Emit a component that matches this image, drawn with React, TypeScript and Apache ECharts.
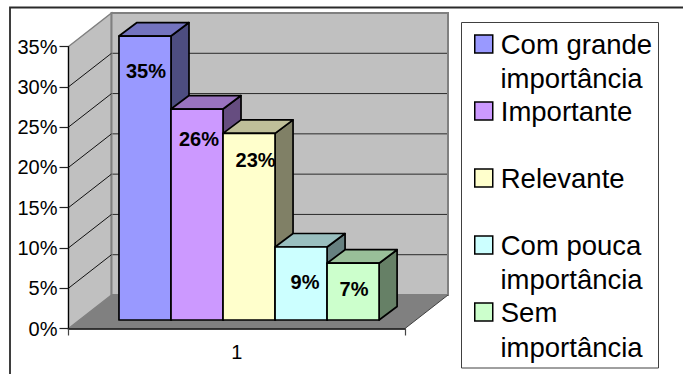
import React, { useEffect, useRef } from "react";
import * as echarts from "echarts";

// Survey answers, in percent, one column per answer.
const categories = ["1"];
const answerNames = [
  "Com grande\nimportância",
  "Importante",
  "Relevante",
  "Com pouca\nimportância",
  "Sem\nimportância",
];
const answerValues = [35, 26, 23, 9, 7];
const wallTicks = [5, 10, 15, 20, 25, 30];

// Front, top and side shades of each column.
const frontColors = ["#9999FF", "#CC99FF", "#FFFFCC", "#CCFFFF", "#CCFFCC"];
const topColors = ["#7373BF", "#9973BF", "#BFBF99", "#99BFBF", "#99BF99"];
const sideColors = ["#4D4D80", "#664D80", "#808066", "#668080", "#668066"];

// Label placement relative to the column's top centre.
const labelNudgeX = [1, 2, 6.5, 4, 1];
const labelNudgeY = [35, 30, 27, 35, 25.5];

const FONT = '"Liberation Sans", Arial, sans-serif';
const LEGEND_FONT_SIZE = 27.5;
const AXIS_FONT_SIZE = 20;
const DEPTH_X = 43;
const DEPTH_Y = 33.5;
const COLUMN_DX = 18;
const COLUMN_DY = 13.5;
const COLUMN_SCALE = 1.007;
const FLOOR_INSET = 8.5;

const poly = (points: number[][], style: any) => ({
  type: "polygon",
  shape: { points },
  style,
});
const seg = (x1: number, y1: number, x2: number, y2: number, stroke: string, lineWidth: number) => ({
  type: "line",
  shape: { x1, y1, x2, y2 },
  style: { stroke, lineWidth, fill: "none" },
});

// Side wall, back wall and floor of the box, with gridlines at each tick.
const renderWalls = (_params: any, api: any) => {
  const [cx, y0] = api.coord([0, 0]);
  const band = api.size([1, 0])[0];
  const left = cx - band / 2;
  const right = cx + band / 2;
  const yTop = api.coord([0, 35])[1];
  const backLeft = left + DEPTH_X;
  const backRight = right + DEPTH_X;
  const children: any[] = [
    poly(
      [[left, y0], [backLeft, y0 - DEPTH_Y], [backLeft, yTop - DEPTH_Y], [left, yTop]],
      { fill: "#C0C0C0", stroke: "#808080", lineWidth: 1.5 },
    ),
    poly(
      [[backLeft, y0 - DEPTH_Y], [backRight, y0 - DEPTH_Y], [backRight, yTop - DEPTH_Y], [backLeft, yTop - DEPTH_Y]],
      { fill: "#C0C0C0", stroke: "#808080", lineWidth: 2 },
    ),
  ];
  wallTicks.forEach((t) => {
    const y = api.coord([0, t])[1];
    children.push(seg(left, y, backLeft, y - DEPTH_Y, "#111111", 1));
    children.push(seg(backLeft + 1, y - DEPTH_Y, backRight - 1, y - DEPTH_Y, "#2A2A2A", 1));
  });
  children.push(
    poly(
      [[left, y0], [right, y0], [backRight, y0 - DEPTH_Y], [backLeft, y0 - DEPTH_Y]],
      { fill: "#808080" },
    ),
    seg(right, y0, backRight, y0 - DEPTH_Y, "#404040", 1),
  );
  return { type: "group", children };
};

// One extruded column with its value label.
const renderColumn = (index: number) => (_params: any, api: any) => {
  const value = api.value(1);
  const [cx, y0] = api.coord([0, 0]);
  const band = api.size([1, 0])[0];
  const width = band * 0.1546;
  const x = cx - band / 2 + band * (0.15 + index * 0.1546);
  const bottom = y0 - FLOOR_INSET;
  const top = bottom - (y0 - api.coord([0, value])[1]) * COLUMN_SCALE;
  const edge = { stroke: "#000000", lineWidth: 1.7, lineJoin: "round" };
  return {
    type: "group",
    children: [
      poly(
        [[x + width, bottom], [x + width + COLUMN_DX, bottom - COLUMN_DY], [x + width + COLUMN_DX, top - COLUMN_DY], [x + width, top]],
        { fill: sideColors[index], ...edge },
      ),
      poly(
        [[x, top], [x + COLUMN_DX, top - COLUMN_DY], [x + width + COLUMN_DX, top - COLUMN_DY], [x + width, top]],
        { fill: topColors[index], ...edge },
      ),
      poly(
        [[x, top], [x + width, top], [x + width, bottom], [x, bottom]],
        { fill: frontColors[index], ...edge },
      ),
      {
        type: "text",
        x: x + width / 2 + labelNudgeX[index],
        y: top + labelNudgeY[index],
        style: {
          text: `${value}%`,
          fill: "#000000",
          fontFamily: FONT,
          fontWeight: "bold",
          fontSize: 20,
          align: "center",
          verticalAlign: "middle",
        },
      },
    ],
  };
};

const legendText = (text: string, y: number) => ({
  type: "text",
  x: 500.5,
  y,
  z: 6,
  style: {
    text,
    fill: "#000000",
    fontFamily: FONT,
    fontSize: LEGEND_FONT_SIZE,
    verticalAlign: "middle",
  },
});

export default function App() {
  const ref = useRef<HTMLDivElement>(null);

  useEffect(() => {
    const chart = echarts.init(ref.current!, undefined, { renderer: "svg" });
    chart.setOption({
      animation: false,
      backgroundColor: "#FFFFFF",
      textStyle: { fontFamily: FONT },
      grid: { left: 68.5, top: 46.5, width: 336.5, height: 282, containLabel: false },
      xAxis: {
        type: "category",
        data: categories,
        z: 5,
        axisLine: { lineStyle: { color: "#000000", width: 1.5 } },
        axisTick: { show: true, length: 7, lineStyle: { color: "#444444", width: 1.2 } },
        axisLabel: { color: "#000000", fontSize: AXIS_FONT_SIZE, fontFamily: FONT, margin: 13 },
      },
      yAxis: {
        type: "value",
        min: 0,
        max: 35,
        interval: 5,
        z: 5,
        axisLine: { show: true, lineStyle: { color: "#000000", width: 1.2 } },
        axisTick: { show: true, length: 9, lineStyle: { color: "#222222", width: 1.2 } },
        axisLabel: { color: "#000000", fontSize: AXIS_FONT_SIZE, fontFamily: FONT, margin: 11, formatter: "{value}%" },
        splitLine: { show: false },
      },
      legend: {
        orient: "vertical",
        left: 474,
        top: 30,
        padding: 0,
        itemWidth: 18,
        itemHeight: 18,
        itemGap: 39,
        icon: "rect",
        selectedMode: false,
        data: answerNames,
        itemStyle: { borderColor: "#000000", borderWidth: 1.5 },
        textStyle: { color: "#000000", fontFamily: FONT, fontSize: LEGEND_FONT_SIZE, lineHeight: 28, padding: [0, 0, 0, 3] },
        formatter: (name: string) => name.split("\n")[0],
      },
      graphic: [
        { type: "polyline", shape: { points: [[10, 380], [10, 7.5], [690, 7.5]] }, style: { stroke: "#2A2A2A", lineWidth: 1.8, fill: "none" }, z: 0 },
        { type: "rect", shape: { x: 461.5, y: 22.5, width: 197, height: 345.5 }, style: { fill: "#FFFFFF", stroke: "#404040", lineWidth: 1 }, z: 0 },
        legendText("importância", 78),
        legendText("importância", 279),
        legendText("importância", 347),
      ],
      series: [
        {
          type: "custom",
          z: 1,
          silent: true,
          renderItem: renderWalls,
          data: [[0, 0]],
          encode: { x: 0, y: 1 },
        },
        ...answerNames.map((name, i) => ({
          type: "custom",
          name,
          z: 2 + i * 0.01,
          itemStyle: { color: frontColors[i] },
          renderItem: renderColumn(i),
          data: [[0, answerValues[i]]],
          encode: { x: 0, y: 1 },
        })),
      ],
    });
    return () => chart.dispose();
  }, []);

  return <div ref={ref} style={{ position: "fixed", left: 0, top: 0, width: 683, height: 374 }} />;
}
